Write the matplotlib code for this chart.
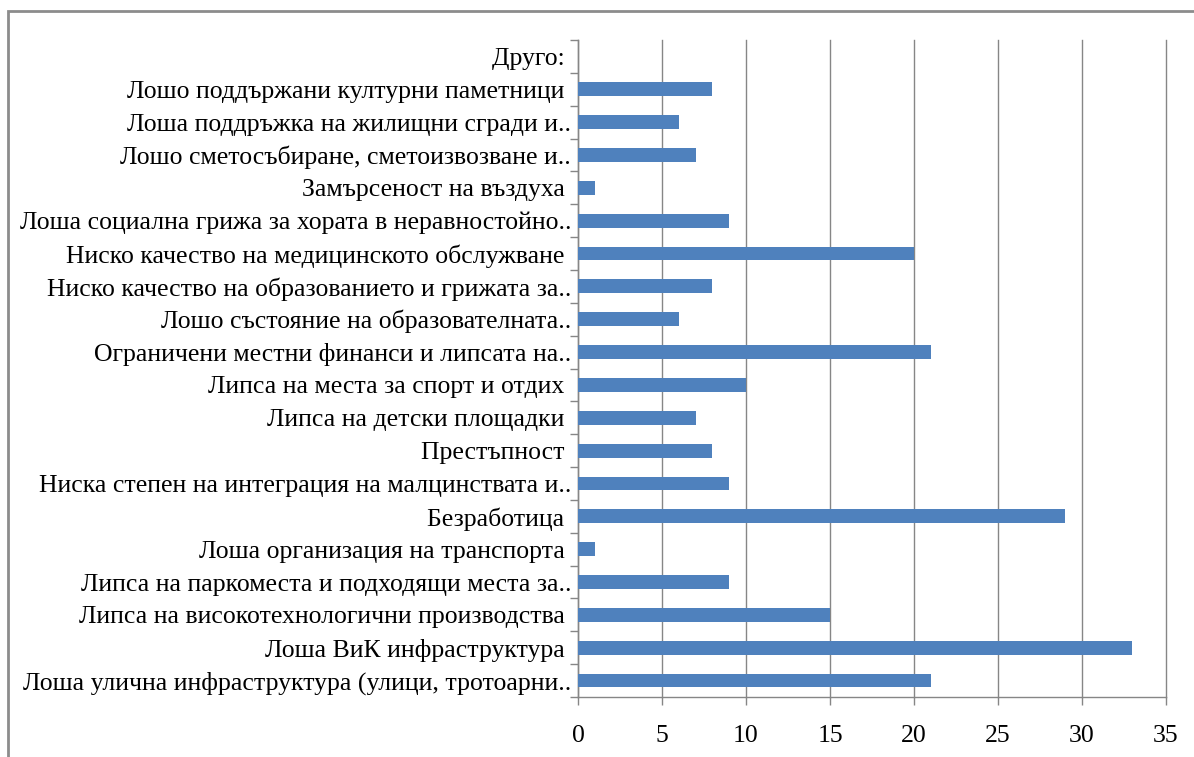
import matplotlib
matplotlib.use('Agg')
import matplotlib.pyplot as plt
from matplotlib.patches import Rectangle
import numpy as np

plt.rcParams['font.family'] = ['Liberation Serif', 'DejaVu Serif']

# categories from bottom to top
categories = [
    "Лоша улична инфраструктура (улици, тротоарни..",
    "Лоша ВиК инфраструктура ",
    "Липса на високотехнологични производства ",
    "Липса на паркоместа и подходящи места за..",
    "Лоша организация на транспорта ",
    "Безработица ",
    "Ниска степен на интеграция на малцинствата и..",
    "Престъпност ",
    "Липса на детски площадки ",
    "Липса на места за спорт и отдих ",
    "Ограничени местни финанси и липсата на..",
    "Лошо състояние на образователната..",
    "Ниско качество на образованието и грижата за..",
    "Ниско качество на медицинското обслужване ",
    "Лоша социална грижа за хората в неравностойно..",
    "Замърсеност на въздуха ",
    "Лошо сметосъбиране, сметоизвозване и..",
    "Лоша поддръжка на жилищни сгради и..",
    "Лошо поддържани културни паметници ",
    "Друго: ",
]
values = [21, 33, 15, 9, 1, 29, 9, 8, 7, 10, 21, 6, 8, 20, 9, 1, 7, 6, 8, 0]
xticks = [0, 5, 10, 15, 20, 25, 30, 35]

fig = plt.figure(figsize=(11.94, 7.57), dpi=100)
ax = fig.add_axes([578 / 1194, 1 - 697 / 757, 588 / 1194, 657 / 757])

# outer chart frame (cropped at the right and bottom)
fig.patches.append(Rectangle((8 / 1194, -0.1), 1.2, 1 - 11 / 757 + 0.1,
                             transform=fig.transFigure, fill=False,
                             edgecolor='#8c8c8c', linewidth=2))

y = np.arange(len(categories))
ax.barh(y, values, height=0.42, color='#4F81BD', zorder=3)

ax.set_xlim(0, 35)
ax.set_ylim(-0.5, len(categories) - 0.5)
ax.set_xticks(xticks)
ax.set_xticklabels([str(t) for t in xticks], fontsize=18.5)
ax.set_yticks(y)
ax.set_yticklabels(categories, fontsize=18.5)
ax.set_yticks(np.arange(-0.5, len(categories), 1), minor=True)
ax.tick_params(axis='y', which='major', length=0, pad=5)
ax.tick_params(axis='y', which='minor', length=6, color='#868686', width=1)
ax.tick_params(axis='x', length=6, color='#868686', width=1, pad=14)

ax.grid(axis='x', color='#868686', linewidth=1, zorder=0)
for gl in ax.get_xgridlines():
    gl.set_clip_on(False)
for side in ['top', 'right']:
    ax.spines[side].set_visible(False)
for side in ['left', 'bottom']:
    ax.spines[side].set_color('#868686')
    ax.spines[side].set_linewidth(1)

fig.savefig('out.png', dpi=100)
